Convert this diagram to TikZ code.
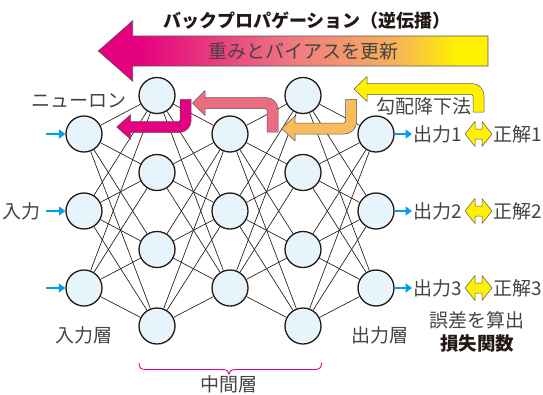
\documentclass[tikz,border=0pt]{standalone}
\usepackage{fontspec}
\newfontfamily\jp{Noto Sans CJK JP}
\usetikzlibrary{arrows.meta}
\definecolor{magA}{HTML}{E4007F}
\definecolor{pinkA}{HTML}{EC6D81}
\definecolor{oraA}{HTML}{F8BC5C}
\definecolor{yelA}{HTML}{FFF100}
\definecolor{salC}{HTML}{EE7A80}
\definecolor{oraC}{HTML}{F6B25A}
\definecolor{nodefill}{HTML}{E8F4FB}
\definecolor{nodeline}{HTML}{231815}
\definecolor{cyanA}{HTML}{00A0E9}
\definecolor{lblgray}{HTML}{444444}
\definecolor{outl}{HTML}{595757}
\pgfdeclarehorizontalshading{bpshade}{100bp}{color(0bp)=(magA); color(25bp)=(magA); color(30bp)=(magA); color(50bp)=(salC); color(63bp)=(oraC); color(71bp)=(yelA); color(100bp)=(yelA)}
\newcommand{\arrW}{5.5}
\newcommand{\arrH}{12.5}
\newcommand{\arrR}{12}
\newcommand{\arrr}{2}
% cx, top, cy, headbase, tip, style
\newcommand{\bentDown}[6]{%
 \pgfmathsetmacro\bxR{#1+\arrW}\pgfmathsetmacro\bxL{#1-\arrW}%
 \pgfmathsetmacro\byB{#3+\arrW}\pgfmathsetmacro\byT{#3-\arrW}%
 \pgfmathsetmacro\bya{\byB-\arrR}\pgfmathsetmacro\byc{\byB-0.448*\arrR}%
 \pgfmathsetmacro\bxc{\bxR-0.448*\arrR}\pgfmathsetmacro\bxe{\bxR-\arrR}%
 \pgfmathsetmacro\bxi{\bxL-\arrr}\pgfmathsetmacro\bxj{\bxL-0.448*\arrr}%
 \pgfmathsetmacro\byj{\byT-0.448*\arrr}\pgfmathsetmacro\byi{\byT-\arrr}%
 \pgfmathsetmacro\bhB{#3+\arrH}\pgfmathsetmacro\bhT{#3-\arrH}%
 \draw[#6] (\bxR,#2) -- (\bxR,\bya) .. controls (\bxR,\byc) and (\bxc,\byB) .. (\bxe,\byB) -- (#4,\byB) -- (#4,\bhB) -- (#5,#3) -- (#4,\bhT) -- (#4,\byT) -- (\bxi,\byT) .. controls (\bxj,\byT) and (\bxL,\byj) .. (\bxL,\byi) -- (\bxL,#2) -- cycle;}
% cx, bottom, cy, headbase, tip, style
\newcommand{\bentUp}[6]{%
 \pgfmathsetmacro\bxR{#1+\arrW}\pgfmathsetmacro\bxL{#1-\arrW}%
 \pgfmathsetmacro\byB{#3+\arrW}\pgfmathsetmacro\byT{#3-\arrW}%
 \pgfmathsetmacro\bya{\byT+\arrR}\pgfmathsetmacro\byc{\byT+0.448*\arrR}%
 \pgfmathsetmacro\bxc{\bxR-0.448*\arrR}\pgfmathsetmacro\bxe{\bxR-\arrR}%
 \pgfmathsetmacro\bxi{\bxL-\arrr}\pgfmathsetmacro\bxj{\bxL-0.448*\arrr}%
 \pgfmathsetmacro\byj{\byB+0.448*\arrr}\pgfmathsetmacro\byi{\byB+\arrr}%
 \pgfmathsetmacro\bhB{#3+\arrH}\pgfmathsetmacro\bhT{#3-\arrH}%
 \draw[#6] (\bxR,#2) -- (\bxR,\bya) .. controls (\bxR,\byc) and (\bxc,\byT) .. (\bxe,\byT) -- (#4,\byT) -- (#4,\bhT) -- (#5,#3) -- (#4,\bhB) -- (#4,\byB) -- (\bxi,\byB) .. controls (\bxj,\byB) and (\bxL,\byj) .. (\bxL,\byi) -- (\bxL,#2) -- cycle;}
\begin{document}
\begin{tikzpicture}[x=1pt,y=-1pt,
  neuron/.style={circle, draw=nodeline, line width=1.3pt, fill=nodefill, minimum size=36pt, inner sep=0pt},
  link/.style={draw=nodeline, line width=0.65pt},
  lbl/.style={font=\jp\fontsize{19pt}{22pt}\selectfont, text=lblgray, inner sep=0pt},
  ttl/.style={font=\jp\bfseries\fontsize{18pt}{21pt}\selectfont, text=nodeline, inner sep=0pt},
  boldlbl/.style={font=\jp\bfseries\fontsize{18.5pt}{21pt}\selectfont, text=nodeline, inner sep=0pt},
  cyanarr/.style={draw=cyanA, line width=2.8pt, -{Triangle[length=6.5pt,width=9pt]}},
  bentshape/.style={draw=outl, line width=0.5pt, line join=round},
  dbl/.style={draw=outl, line width=0.5pt, fill=yelA, line join=round}
]
\useasboundingbox (0,0) rectangle (543,394);
% neurons
\node[neuron] (i1) at (84,134) {};
\node[neuron] (i2) at (84,211) {};
\node[neuron] (i3) at (84,288) {};
\node[neuron] (a1) at (157,95.5) {};
\node[neuron] (a2) at (157,172.5) {};
\node[neuron] (a3) at (157,249.5) {};
\node[neuron] (a4) at (157,326) {};
\node[neuron] (b1) at (230,134) {};
\node[neuron] (b2) at (230,211) {};
\node[neuron] (b3) at (230,288) {};
\node[neuron] (c1) at (303,95.5) {};
\node[neuron] (c2) at (303,172.5) {};
\node[neuron] (c3) at (303,249.5) {};
\node[neuron] (c4) at (303,326) {};
\node[neuron] (o1) at (376,134) {};
\node[neuron] (o2) at (376,211) {};
\node[neuron] (o3) at (376,288) {};
% links
\foreach \s in {i1,i2,i3} \foreach \t in {a1,a2,a3,a4} \draw[link] (\s) -- (\t);
\foreach \s in {a1,a2,a3,a4} \foreach \t in {b1,b2,b3} \draw[link] (\s) -- (\t);
\foreach \s in {b1,b2,b3} \foreach \t in {c1,c2,c3,c4} \draw[link] (\s) -- (\t);
\foreach \s in {c1,c2,c3,c4} \foreach \t in {o1,o2,o3} \draw[link] (\s) -- (\t);
% input / output arrows
\coordinate (ie1) at (46,134);
\coordinate (ie2) at (46,211);
\coordinate (ie3) at (46,288);
\coordinate (oe1) at (412,134);
\coordinate (oe2) at (412,211);
\coordinate (oe3) at (412,288);
\foreach \k in {1,2,3} {
  \draw[cyanarr] (ie\k) -- (i\k);
  \draw[cyanarr] (o\k) -- (oe\k);
}
% big arrow
\shadedraw[shading=bpshade, draw=outl, line width=0.6pt, line join=miter]
  (488,36) -- (132.7,36) -- (132.7,20.7) -- (98.3,51) -- (132.7,81.3) -- (132.7,66) -- (488,66) -- cycle;
\node[lbl, font=\jp\fontsize{19pt}{22pt}\selectfont] (upd) at (303,51.5) {重みとバイアスを更新};
\node[ttl] (title) at (307,21) {バックプロパゲーション（逆伝播）};
% bent arrows
\bentDown{185.7}{99.3}{127}{130.7}{116.7}{bentshape, fill=magA}
\bentDown{351}{99.3}{128.5}{295}{281.7}{bentshape, fill=oraA}
\bentUp{272.5}{132}{103}{205}{192.5}{bentshape, fill=pinkA}
\bentUp{478.5}{112}{89}{367}{354}{bentshape, fill=yelA}
% double arrows
\foreach \k/\yy in {1/134,2/211,3/288} {
  \coordinate (d\k) at (478.5,\yy);
  \draw[dbl, shift={(d\k)}] (-13.5,0) -- (-3.5,-12.5) -- (-3.5,-5) -- (3.5,-5) -- (3.5,-12.5) -- (13.5,0) -- (3.5,12.5) -- (3.5,5) -- (-3.5,5) -- (-3.5,12.5) -- cycle;
  \node[lbl, anchor=west] (out\k) at (413.5,\yy) {出力\k};
  \node[lbl, anchor=west] (ans\k) at (493,\yy) {正解\k};
}
% labels
\node[lbl] (neu) at (79,101) {ニューロン};
\node[lbl] (grad) at (423.5,106) {勾配降下法};
\node[lbl, anchor=east] (inl) at (41,211) {入力};
\node[lbl] (inlayer) at (84,335) {入力層};
\node[lbl] (outlayer) at (380,335) {出力層};
\node[lbl] (err) at (477,320) {誤差を算出};
\node[boldlbl] (loss) at (477,343) {損失関数};
\node[lbl] (mid) at (229,384) {中間層};
% brace
\draw[magA, line width=0.9pt, line cap=round]
  (139,363) .. controls (139,368) and (141,369.5) .. (146,369.5) -- (222,369.5)
  .. controls (226.5,369.5) and (229,371) .. (229,374)
  .. controls (229,371) and (231.5,369.5) .. (236,369.5) -- (314.5,369.5)
  .. controls (319.5,369.5) and (321.5,368) .. (321.5,363);
\end{tikzpicture}
\end{document}
